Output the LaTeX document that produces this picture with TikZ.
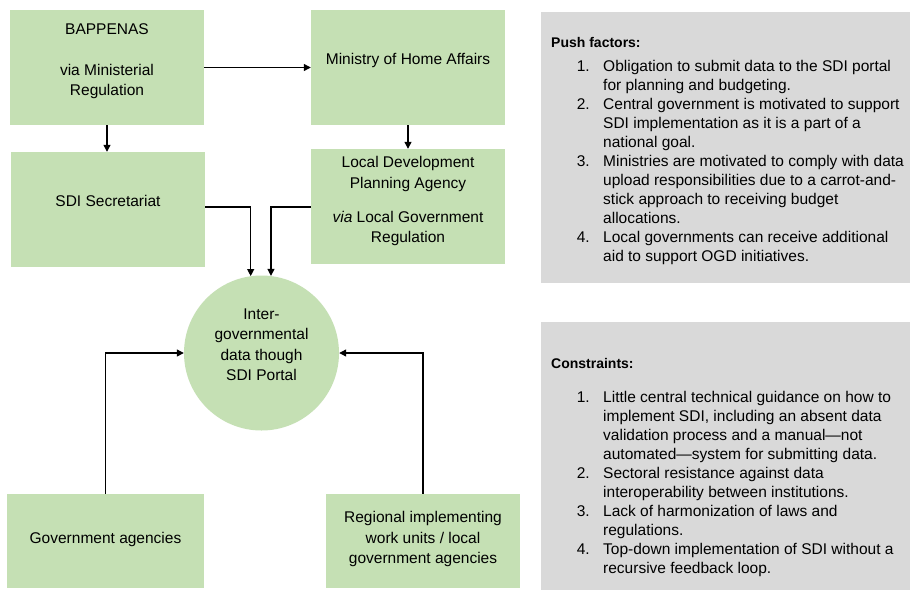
\documentclass[tikz,border=0pt]{standalone}
\usepackage{fontspec}
\setmainfont{Liberation Sans}
\usetikzlibrary{arrows.meta,calc}
\definecolor{boxgreen}{HTML}{C5E0B4}
\definecolor{panelgray}{HTML}{D9D9D9}
\tikzset{
  gbox/.style={fill=boxgreen, draw=none, inner sep=0pt, minimum width=194pt, minimum height=115pt},
  btxt/.style={inner sep=0pt, align=center, anchor=base, font=\fontsize{15.5}{20.5}\selectfont},
  ptxt/.style={inner sep=0pt, align=left, anchor=base west, font=\fontsize{15.5}{19}\selectfont},
  pnum/.style={inner sep=0pt, anchor=base east, font=\fontsize{15.5}{19}\selectfont},
  phead/.style={inner sep=0pt, anchor=base west, font=\bfseries\fontsize{14}{19}\selectfont},
  conn/.style={line width=1.2pt, -{Triangle[length=7pt,width=7pt]}},
}
\begin{document}
\begin{tikzpicture}[x=1pt,y=-1pt]
\useasboundingbox (0,0) rectangle (910,590);
\fill[white] (0,0) rectangle (910,590);
% boxes
\node[gbox] (bap) at (107,67.5) {};
\node[gbox] (min) at (408,67.5) {};
\node[gbox] (sdi) at (108,209.5) {};
\node[gbox] (loc) at (408,206.5) {};
\node[gbox, minimum width=197pt, minimum height=94pt] (gov) at (105.5,541) {};
\node[gbox, minimum width=194pt, minimum height=94pt] (reg) at (423,541) {};
\node[circle, fill=boxgreen, draw=none, inner sep=0pt, minimum size=155pt] (circ) at (261.5,353) {};
% box texts (base anchor = baseline of last line)
\node[btxt] (baptxt) at (107,95.5) {BAPPENAS\\[20pt]via Ministerial\\Regulation};
\node[btxt] (mintxt) at (408,64.5) {Ministry of Home Affairs};
\node[btxt] (sditxt) at (108,206.5) {SDI Secretariat};
\node[btxt] (loctxt) at (408,242.5) {Local Development\\Planning Agency\\[13.5pt]\textit{via} Local Government\\Regulation};
\node[btxt] (circtxt) at (261.5,380.5) {Inter-\\governmental\\data though\\SDI Portal};
\node[btxt] (govtxt) at (105.5,543.5) {Government agencies};
\node[btxt] (regtxt) at (423,563.5) {Regional implementing\\work units / local\\government agencies};
% connectors
\draw[conn] (bap.east) -- (min.west);
\draw[conn] (bap.south) -- (sdi.north -| bap.south);
\draw[conn] (min.south) -- (loc.north);
\draw[conn] (sdi.east |- 0,207) -| (circ.98.5);
\draw[conn] (loc.west |- 0,207) -| (circ.83.7);
\draw[conn] (gov.north) |- (circ.west);
\draw[conn] (reg.north) |- (circ.east);
% panels
\node[fill=panelgray, draw=none, inner sep=0pt, minimum width=369pt, minimum height=271pt] (push) at (725.5,147.5) {};
\node[fill=panelgray, draw=none, inner sep=0pt, minimum width=369pt, minimum height=268pt] (cons) at (725.5,456) {};
\node[phead] (pushhead) at (551,47) {Push factors:};
\node[pnum] (pn1) at (590,71) {1.};
\node[ptxt] (pi1) at (603,90) {Obligation to submit data to the SDI portal\\for planning and budgeting.};
\node[pnum] (pn2) at (590,109) {2.};
\node[ptxt] (pi2) at (603,147) {Central government is motivated to support\\SDI implementation as it is a part of a\\national goal.};
\node[pnum] (pn3) at (590,166) {3.};
\node[ptxt] (pi3) at (603,223) {Ministries are motivated to comply with data\\upload responsibilities due to a carrot-and-\\stick approach to receiving budget\\allocations.};
\node[pnum] (pn4) at (590,242) {4.};
\node[ptxt] (pi4) at (603,261) {Local governments can receive additional\\aid to support OGD initiatives.};
\node[phead] (conshead) at (551,368) {Constraints:};
\node[pnum] (cn1) at (590,402) {1.};
\node[ptxt] (ci1) at (603,459) {Little central technical guidance on how to\\implement SDI, including an absent data\\validation process and a manual—not\\automated—system for submitting data.};
\node[pnum] (cn2) at (590,478) {2.};
\node[ptxt] (ci2) at (603,497) {Sectoral resistance against data\\interoperability between institutions.};
\node[pnum] (cn3) at (590,516) {3.};
\node[ptxt] (ci3) at (603,535) {Lack of harmonization of laws and\\regulations.};
\node[pnum] (cn4) at (590,554) {4.};
\node[ptxt] (ci4) at (603,573) {Top-down implementation of SDI without a\\recursive feedback loop.};
\end{tikzpicture}
\end{document}
